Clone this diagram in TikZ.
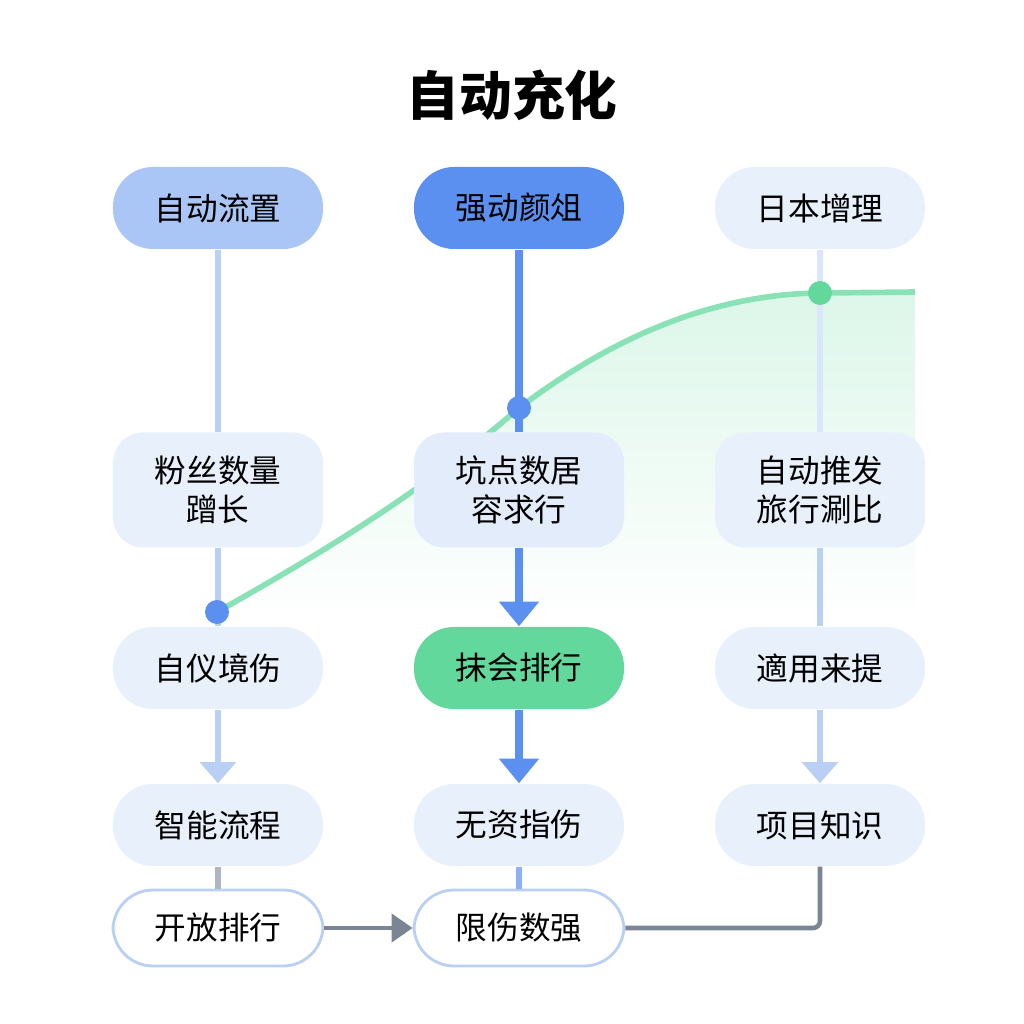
\documentclass[tikz,border=0pt]{standalone}
\usepackage{fontspec}
\setmainfont{Noto Sans CJK SC}
\usetikzlibrary{arrows.meta}
\definecolor{paleblue}{HTML}{E8F0FC}
\definecolor{midblue}{HTML}{A9C6F6}
\definecolor{deepblue}{HTML}{5B8FF0}
\definecolor{linkblue}{HTML}{B9D0F4}
\definecolor{softgreen}{HTML}{62D89D}
\definecolor{edgegray}{HTML}{7C8594}
\begin{document}
\begin{tikzpicture}[
    pill/.style={rounded corners=0.4cm,minimum width=2.1cm,minimum height=0.82cm,
        fill=paleblue,draw=none,font=\fontsize{9}{11}\selectfont,align=center},
    tallbox/.style={pill,minimum height=1.15cm,rounded corners=0.3cm},
    openbox/.style={pill,fill=white,draw=linkblue,line width=0.8pt,minimum height=0.76cm},
    thinlink/.style={linkblue,line width=1.6pt},
    boldlink/.style={deepblue,line width=2.2pt},
    dot/.style={circle,inner sep=0pt,minimum size=0.24cm}
]
    \useasboundingbox[fill=white] (0,0) rectangle (10.24,10.24);

    \node[font=\fontsize{15}{18}\selectfont\bfseries] (title) at (5.12,9.29) {自动充化};

    % green growth area
    \shade[top color=softgreen!22,bottom color=white] (2.17,4.12) .. controls (3.2,4.7) and (4.2,5.3) .. (5.19,6.16)
        .. controls (6.3,7.0) and (7.3,7.3) .. (8.20,7.31) -- (9.15,7.32) -- (9.15,4.0) -- (2.17,4.0) -- cycle;
    \draw[softgreen!75,line width=1.6pt] (2.17,4.12) .. controls (3.2,4.7) and (4.2,5.3) .. (5.19,6.16)
        .. controls (6.3,7.0) and (7.3,7.3) .. (8.20,7.31) -- (9.15,7.32);

    % row 1
    \node[pill,fill=midblue] (a1) at (2.18,8.16) {自动流置};
    \node[pill,fill=deepblue] (b1) at (5.19,8.16) {强动颜俎};
    \node[pill] (c1) at (8.20,8.16) {日本增理};
    % row 2
    \node[tallbox] (a2) at (2.18,5.34) {粉丝数量\\蹭长};
    \node[tallbox,fill=paleblue!90!midblue] (b2) at (5.19,5.34) {坑点数居\\容求行};
    \node[tallbox] (c2) at (8.20,5.34) {自动推发\\旅行涮比};
    % row 3
    \node[pill] (a3) at (2.18,3.56) {自仪境伤};
    \node[pill,fill=softgreen] (b3) at (5.19,3.56) {抹会排行};
    \node[pill] (c3) at (8.20,3.56) {適用来提};
    % row 4
    \node[pill] (a4) at (2.18,1.99) {智能流程};
    \node[pill] (b4) at (5.19,1.99) {无资指伤};
    \node[pill] (c4) at (8.20,1.99) {项目知识};
    % row 5
    \node[openbox] (a5) at (2.18,0.96) {开放排行};
    \node[openbox] (b5) at (5.19,0.96) {限伤数强};

    \draw[thinlink] (a1) -- (a2);
    \draw[thinlink] (a2) -- (a3);
    \draw[thinlink,-{Triangle[length=6pt,width=10pt]}] (a3) -- (a4);
    \draw[thinlink,edgegray!60] (a4) -- (a5);

    \draw[boldlink] (b1) -- (b2);
    \draw[boldlink,-{Triangle[length=7pt,width=11pt]}] (b2) -- (b3);
    \draw[boldlink,-{Triangle[length=7pt,width=11pt]}] (b3) -- (b4);
    \draw[thinlink,deepblue!70] (b4) -- (b5);

    \draw[thinlink,paleblue!70!linkblue] (c1) -- (c2);
    \draw[thinlink] (c2) -- (c3);
    \draw[thinlink,-{Triangle[length=6pt,width=10pt]}] (c3) -- (c4);

    \draw[edgegray,line width=1.3pt,-{Triangle[length=6pt,width=8pt]}] (a5) -- (b5);
    \draw[edgegray,line width=1.3pt,rounded corners=2pt] (b5.east) -| (c4.south);

    \node[dot,fill=deepblue] (d1) at (2.17,4.12) {};
    \node[dot,fill=deepblue] (d2) at (5.19,6.16) {};
    \node[dot,fill=softgreen] (d3) at (8.20,7.31) {};
\end{tikzpicture}
\end{document}
